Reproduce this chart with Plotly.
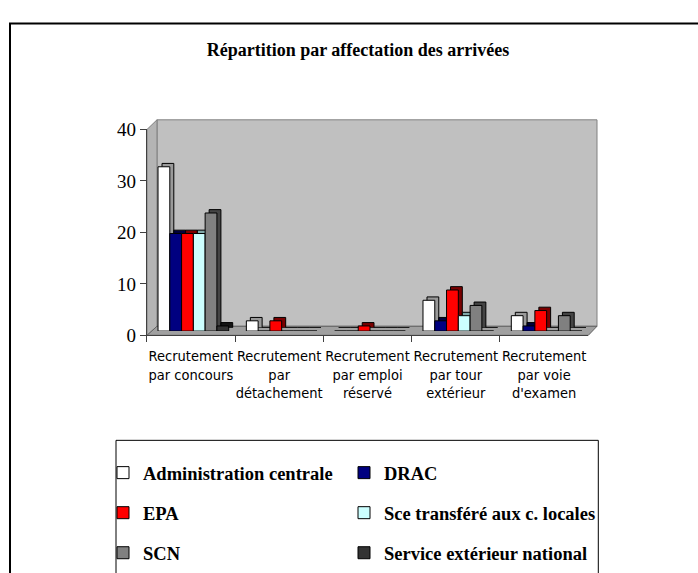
import plotly.graph_objects as go

W, H = 698, 573

categories = ["Recrutement<br>par concours", "Recrutement<br>par<br>détachement",
              "Recrutement<br>par emploi<br>réservé", "Recrutement<br>par tour<br>extérieur",
              "Recrutement<br>par voie<br>d'examen"]

admin_centrale = [32, 2, 0, 6, 3]
drac = [19, 0, 0, 2, 1]
epa = [19, 2, 1, 8, 4]
sce_transfere = [19, 0, 0, 3, 0]
scn = [23, 0, 0, 5, 3]
service_ext = [1, 0, 0, 0, 0]

series_names = ["Administration centrale", "DRAC", "EPA",
                "Sce transféré aux c. locales", "SCN", "Service extérieur national"]
series_values = [admin_centrale, drac, epa, sce_transfere, scn, service_ext]
front_colors = ["#FFFFFF", "#000080", "#FF0000", "#CCFFFF", "#808080", "#333333"]
side_colors = ["#9A9A9A", "#00003C", "#7A0000", "#7FA8A8", "#444444", "#151515"]
legend_ids = ["legend", "legend2", "legend", "legend2", "legend", "legend2"]

y_ticks = [0, 10, 20, 30, 40]


def fx(p):
    return p / W


def fy(p):
    return 1 - p / H


fig = go.Figure()

# depth (extrusion) copies, drawn first, shifted up/right
for name, vals, col in zip(series_names, series_values, side_colors):
    fig.add_trace(go.Bar(x=categories, y=vals, marker=dict(color=col, line=dict(color="#000000", width=1)),
                         xaxis="x", yaxis="y", showlegend=False, hoverinfo="skip"))

# front faces
for i, (name, vals, col, lg) in enumerate(zip(series_names, series_values, front_colors, legend_ids)):
    fig.add_trace(go.Bar(x=categories, y=vals, name="<b>%s</b>" % name,
                         marker=dict(color=col, line=dict(color="#000000", width=1)),
                         xaxis="x2", yaxis="y2", legend=lg, legendgroup="g%d" % i))

# frame axes (front edge of the 3D box) carrying the labels
fig.add_trace(go.Scatter(x=categories, y=[0] * len(categories), mode="markers",
                         marker=dict(opacity=0), xaxis="x3", yaxis="y3",
                         showlegend=False, hoverinfo="skip"))

hidden = dict(showgrid=False, zeroline=False, showticklabels=False, ticks="", showline=False)

fig.update_layout(
    width=W, height=H, autosize=False,
    margin=dict(l=0, r=0, t=0, b=0),
    paper_bgcolor="#FFFFFF", plot_bgcolor="rgba(0,0,0,0)",
    barmode="group", bargap=0.2, bargroupgap=0,
    title=dict(text="<b>Répartition par affectation des arrivées</b>",
               x=fx(358), y=fy(50), xanchor="center", yanchor="middle",
               font=dict(family="Liberation Serif", size=18, color="#000000")),
    xaxis=dict(domain=[fx(153.2), fx(594.8)], range=[-0.5, 4.5], **hidden),
    yaxis=dict(domain=[fy(329.8), fy(116.6)], range=[0, 40], **hidden),
    xaxis2=dict(domain=[fx(149.2), fx(590.8)], range=[-0.5, 4.5], anchor="y2", **hidden),
    yaxis2=dict(domain=[fy(333.3), fy(120.1)], range=[0, 40], anchor="x2", **hidden),
    xaxis3=dict(domain=[fx(146.7), fx(588.3)], range=[-0.5, 4.5], anchor="y3",
                showgrid=False, zeroline=False, showline=True, linecolor="#404040", linewidth=1,
                ticks="outside", tickson="boundaries", ticklen=6, tickcolor="#404040",
                tickangle=0, ticklabelstandoff=7,
                tickfont=dict(family="Liberation Sans Narrow, Arial Narrow, DejaVu Sans Condensed",
                              size=14.5, color="#000000")),
    yaxis3=dict(domain=[fy(337.7), fy(124)], range=[0, 40], anchor="x3",
                tickvals=y_ticks, showgrid=False, zeroline=False,
                showline=True, linecolor="#404040", linewidth=1,
                ticks="outside", ticklen=6, tickcolor="#404040",
                tickfont=dict(family="Liberation Serif", size=19, color="#000000")),
    legend=dict(x=fx(103), y=fy(461), xanchor="left", yanchor="top",
                orientation="v", tracegroupgap=13, bgcolor="rgba(0,0,0,0)",
                font=dict(family="Liberation Serif", size=18.5, color="#000000"),
                itemclick=False, itemdoubleclick=False),
    legend2=dict(x=fx(344), y=fy(461), xanchor="left", yanchor="top",
                 orientation="v", tracegroupgap=13, bgcolor="rgba(0,0,0,0)",
                 font=dict(family="Liberation Serif", size=18.5, color="#000000"),
                 itemclick=False, itemdoubleclick=False),
)

shapes = [
    # outer chart border
    dict(type="rect", xref="paper", yref="paper", x0=fx(10), y0=fy(14), x1=fx(710), y1=fy(590),
         line=dict(color="#000000", width=2), fillcolor="rgba(0,0,0,0)", layer="below"),
    # back wall
    dict(type="rect", xref="paper", yref="paper", x0=fx(157), y0=fy(328.3), x1=fx(597), y1=fy(114),
         line=dict(color="#808080", width=1), fillcolor="#C0C0C0", layer="below"),
    # left wall
    dict(type="path", xref="paper", yref="paper",
         path="M %f %f L %f %f L %f %f L %f %f Z" % (fx(147), fy(124), fx(157), fy(114),
                                                     fx(157), fy(328.3), fx(147), fy(337.7)),
         line=dict(color="#808080", width=1), fillcolor="#B4B4B4", layer="below"),
    # floor
    dict(type="path", xref="paper", yref="paper",
         path="M %f %f L %f %f L %f %f L %f %f Z" % (fx(147), fy(337.7), fx(588.3), fy(337.7),
                                                     fx(597), fy(328.3), fx(157), fy(328.3)),
         line=dict(color="#606060", width=1), fillcolor="#A0A0A0", layer="below"),
    # legend box
    dict(type="rect", xref="paper", yref="paper", x0=fx(116), y0=fy(446.7), x1=fx(598.3), y1=fy(590),
         line=dict(color="#000000", width=1), fillcolor="rgba(0,0,0,0)", layer="below"),
]
fig.update_layout(shapes=shapes)

fig.write_html("out.html", config={"displayModeBar": False},
               post_script="document.body.style.margin='0';document.body.style.overflow='hidden';")
